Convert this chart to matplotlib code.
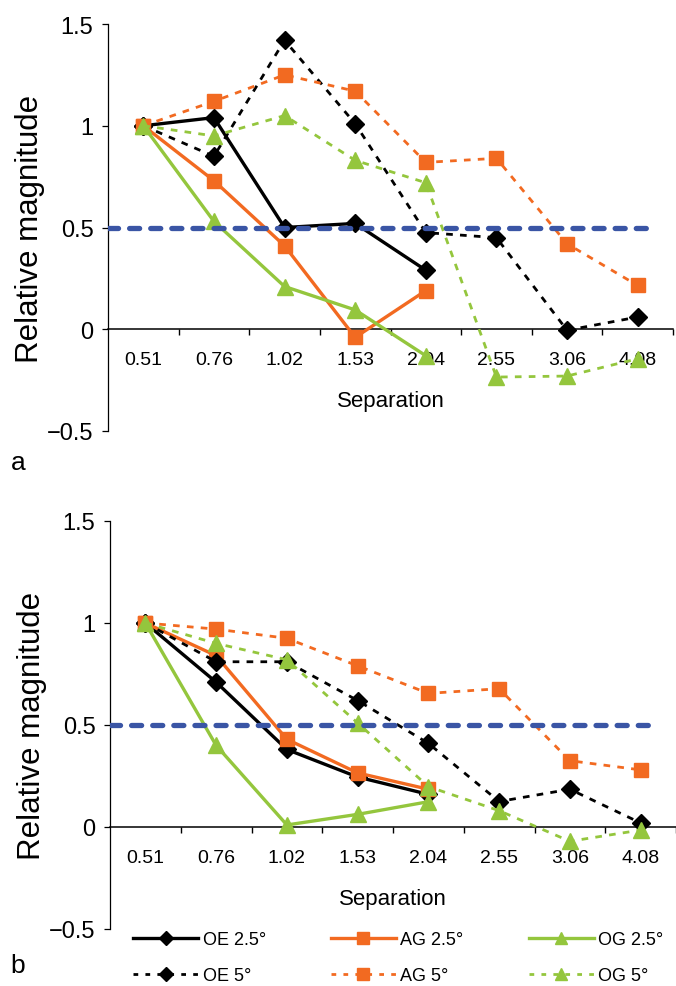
import numpy as np
import matplotlib
matplotlib.use('Agg')
from matplotlib import pyplot as plt
from matplotlib.lines import Line2D

plt.rcParams['font.family'] = ['Liberation Sans', 'DejaVu Sans']

separation = ['0.51', '0.76', '1.02', '1.53', '2.04', '2.55', '3.06', '4.08']
y_ticks = [-0.5, 0, 0.5, 1, 1.5]
y_tick_labels = ['\u22120.5', '0', '0.5', '1', '1.5']
threshold = 0.5

labels = ['OE 2.5\u00b0', 'AG 2.5\u00b0', 'OG 2.5\u00b0', 'OE 5\u00b0', 'AG 5\u00b0', 'OG 5\u00b0']

# panel a
a_oe_25 = [1.0, 1.04, 0.50, 0.52, 0.29]
a_ag_25 = [1.0, 0.73, 0.41, -0.04, 0.19]
a_og_25 = [1.0, 0.53, 0.21, 0.095, -0.13]
a_oe_5 = [1.0, 0.85, 1.42, 1.01, 0.475, 0.45, -0.005, 0.06]
a_ag_5 = [1.0, 1.12, 1.25, 1.17, 0.82, 0.84, 0.42, 0.215]
a_og_5 = [1.0, 0.95, 1.05, 0.83, 0.72, -0.235, -0.23, -0.145]

# panel b
b_oe_25 = [1.0, 0.71, 0.38, 0.245, 0.16]
b_ag_25 = [1.0, 0.84, 0.43, 0.265, 0.185]
b_og_25 = [1.0, 0.40, 0.01, 0.062, 0.124]
b_oe_5 = [1.0, 0.81, 0.81, 0.62, 0.41, 0.125, 0.185, 0.02]
b_ag_5 = [1.0, 0.97, 0.925, 0.79, 0.655, 0.678, 0.325, 0.28]
b_og_5 = [1.0, 0.90, 0.82, 0.51, 0.198, 0.08, -0.07, -0.015]

black = '#000000'
orange = '#F26A21'
green = '#94C63D'
blue = '#3A55A5'

styles = [
    (black, 'D', False),
    (orange, 's', False),
    (green, '^', False),
    (black, 'D', True),
    (orange, 's', True),
    (green, '^', True),
]

W, H = 676, 987
fig = plt.figure(figsize=(W / 100, H / 100), dpi=100)


def draw_panel(rect, series, letter, letter_y):
    ax = fig.add_axes(rect)
    handles = []
    for vals, (color, marker, dashed), lab in zip(series, styles, labels):
        x = np.arange(len(vals))
        ms = 9.5 if marker == 'D' else 10.5
        if marker == '^':
            ms = 11.5
        if dashed:
            ln, = ax.plot(x, vals, color=color, lw=2.0, dashes=(2.4, 2.6),
                          marker=marker, ms=ms, mec=color, mfc=color,
                          label=lab, zorder=3)
        else:
            ln, = ax.plot(x, vals, color=color, lw=2.4,
                          marker=marker, ms=ms, mec=color, mfc=color,
                          label=lab, zorder=3)
        handles.append(ln)

    ax.hlines(threshold, -0.5, 7.22, colors=blue, lw=3.8,
              linestyles=(0, (1.9, 2.1)), capstyle='round', zorder=5)

    ax.set_xlim(-0.5, 7.5)
    ax.set_ylim(-0.5, 1.5)
    for s in ['top', 'right']:
        ax.spines[s].set_visible(False)
    ax.spines['bottom'].set_position(('data', 0))
    ax.spines['bottom'].set_linewidth(1.1)
    ax.spines['left'].set_linewidth(0.9)

    ax.set_xticks(np.arange(len(separation)))
    ax.set_xticklabels(separation, fontsize=14)
    ax.set_xticks(np.arange(0.5, 8, 1), minor=True)
    ax.tick_params(axis='x', which='major', length=0, pad=16)
    ax.tick_params(axis='x', which='minor', length=4, width=1, direction='out')
    ax.set_yticks(y_ticks)
    ax.set_yticklabels(y_tick_labels, fontsize=17)
    ax.tick_params(axis='y', length=4.5, width=0.9, pad=6)

    ax.text(0.5, 0.074, 'Separation', transform=ax.transAxes,
            ha='center', va='center', fontsize=16)
    ax.text(-0.138, 0.5, 'Relative magnitude', transform=ax.transAxes,
            rotation=90, ha='center', va='center', fontsize=22.5)
    fig.text(18 / W, 1 - letter_y / H, letter, fontsize=19,
             ha='center', va='center')
    return ax, handles


ax_a, _ = draw_panel([108 / W, 1 - 432 / H, 565 / W, 407 / H],
                     [a_oe_25, a_ag_25, a_og_25, a_oe_5, a_ag_5, a_og_5],
                     'a', 463)
ax_b, hs = draw_panel([110 / W, 1 - 930 / H, 566 / W, 408 / H],
                      [b_oe_25, b_ag_25, b_og_25, b_oe_5, b_ag_5, b_og_5],
                      'b', 966)

order = [0, 3, 1, 4, 2, 5]
leg_handles = []
for i in order:
    color, marker, dashed = styles[i]
    ms = 8 if marker != 'D' else 7
    if dashed:
        h = Line2D([], [], color=color, lw=2.0, dashes=(1.7, 2.6),
                   marker=marker, ms=ms, mec=color, mfc=color)
    else:
        h = Line2D([], [], color=color, lw=2.4,
                   marker=marker, ms=ms, mec=color, mfc=color)
    leg_handles.append(h)

fig.legend(leg_handles, [labels[i] for i in order], ncol=3,
           loc='upper left', bbox_to_anchor=(133 / W, 1 - 932 / H),
           frameon=False, fontsize=13, handlelength=3.6, handletextpad=0.25,
           columnspacing=3.6, labelspacing=1.05, borderpad=0, borderaxespad=0)

fig.savefig('out.png', dpi=100)
